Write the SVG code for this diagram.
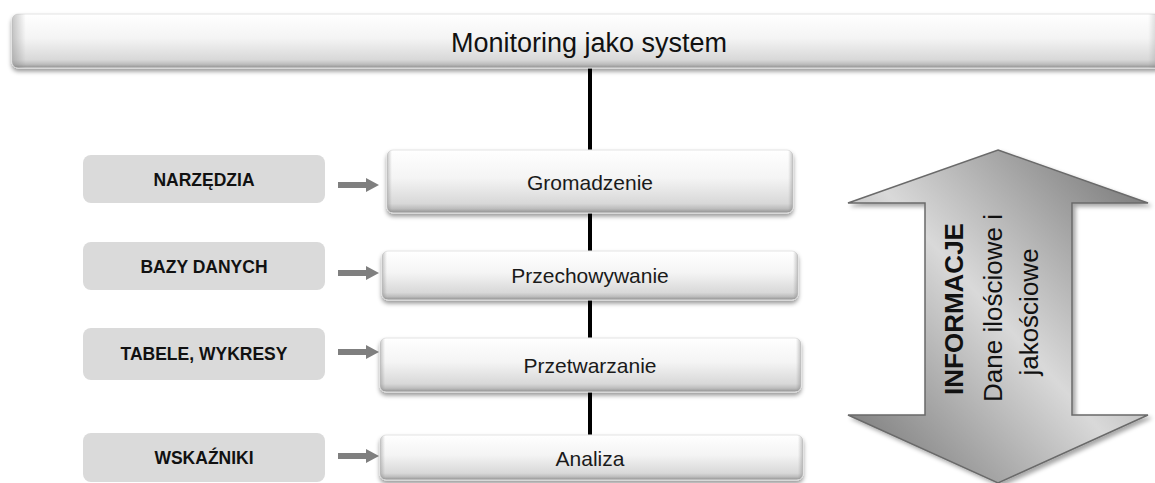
<svg xmlns="http://www.w3.org/2000/svg" width="1155" height="483" viewBox="0 0 1155 483">
<style>
  .bar-text { font-family: "Liberation Sans", Arial, sans-serif; font-size: 27px; fill: #111; text-anchor: middle; }
  .step-text { font-family: "Liberation Sans", Arial, sans-serif; font-size: 21px; fill: #1a1a1a; text-anchor: middle; }
  .side-text { font-family: "Liberation Sans", Arial, sans-serif; font-size: 17.5px; font-weight: bold; fill: #111; text-anchor: middle; }
  .side-box { fill: #dadada; }
  .bevel { fill: url(#gV); stroke: #e4e4e4; stroke-width: 1; filter: url(#sh); }
  .edge { fill: url(#gH); }
  .vline { stroke: #000; stroke-width: 4; fill: none; }
  .garrow { fill: #7f7f7f; }
  .big-text { font-family: "Liberation Sans", Arial, sans-serif; font-size: 26px; fill: #111; text-anchor: middle; }
</style>
<defs>
  <linearGradient id="gV" x1="0" y1="0" x2="0" y2="1">
    <stop offset="0" stop-color="#ffffff"/>
    <stop offset="0.45" stop-color="#f4f4f4"/>
    <stop offset="0.85" stop-color="#d8d8d8"/>
    <stop offset="0.93" stop-color="#bdbdbd"/>
    <stop offset="1" stop-color="#8e8e8e"/>
  </linearGradient>
  <linearGradient id="gH" x1="0" y1="0" x2="1" y2="0">
    <stop offset="0" stop-color="#808080" stop-opacity="0.45"/>
    <stop offset="0.012" stop-color="#808080" stop-opacity="0"/>
    <stop offset="0.988" stop-color="#808080" stop-opacity="0"/>
    <stop offset="1" stop-color="#808080" stop-opacity="0.45"/>
  </linearGradient>
  <linearGradient id="gBig" x1="1" y1="0" x2="0" y2="1">
    <stop offset="0" stop-color="#6f6f6f"/>
    <stop offset="0.5" stop-color="#d9d9d9"/>
    <stop offset="1" stop-color="#6f6f6f"/>
  </linearGradient>
  <filter id="sh" x="-5%" y="-20%" width="110%" height="150%">
    <feDropShadow dx="0" dy="3" stdDeviation="2" flood-color="#000" flood-opacity="0.4"/>
  </filter>
  <filter id="shBig" x="-10%" y="-10%" width="120%" height="120%">
    <feDropShadow dx="3" dy="3" stdDeviation="2" flood-color="#000" flood-opacity="0.35"/>
  </filter>
</defs>

<g id="connectors">
  <line class="vline" x1="590" y1="68" x2="590" y2="151"/>
  <line class="vline" x1="590" y1="213" x2="590" y2="252"/>
  <line class="vline" x1="590" y1="300" x2="590" y2="339"/>
  <line class="vline" x1="590" y1="392" x2="590" y2="436"/>
  <path class="garrow" d="M338,182 H366 V178 L379,185 L366,192 V188 H338 Z"/>
  <path class="garrow" d="M338,270 H366 V266 L379,273 L366,280 V276 H338 Z"/>
  <path class="garrow" d="M338,349 H366 V345 L379,352 L366,359 V355 H338 Z"/>
  <path class="garrow" d="M338,453 H366 V449 L379,456 L366,463 V459 H338 Z"/>
</g>

<g id="title">
  <rect class="bevel" x="12" y="14" width="1150" height="54" rx="6"/>
  <rect class="edge" x="12" y="14" width="1150" height="54" rx="6"/>
  <text class="bar-text" x="589" y="52">Monitoring jako system</text>
</g>

<g id="gromadzenie">
  <rect class="bevel" x="387" y="150" width="406" height="63" rx="6"/>
  <rect class="edge" x="387" y="150" width="406" height="63" rx="6"/>
  <text class="step-text" x="590" y="190">Gromadzenie</text>
</g>
<g id="przechowywanie">
  <rect class="bevel" x="382" y="251" width="416" height="49" rx="6"/>
  <rect class="edge" x="382" y="251" width="416" height="49" rx="6"/>
  <text class="step-text" x="590" y="283">Przechowywanie</text>
</g>
<g id="przetwarzanie">
  <rect class="bevel" x="380" y="338" width="421" height="54" rx="6"/>
  <rect class="edge" x="380" y="338" width="421" height="54" rx="6"/>
  <text class="step-text" x="590" y="373">Przetwarzanie</text>
</g>
<g id="analiza">
  <rect class="bevel" x="380" y="435" width="423" height="45" rx="6"/>
  <rect class="edge" x="380" y="435" width="423" height="45" rx="6"/>
  <text class="step-text" x="590" y="466">Analiza</text>
</g>

<g id="narzedzia">
  <rect class="side-box" x="83" y="155" width="242" height="48" rx="8"/>
  <text class="side-text" x="204" y="186">NARZĘDZIA</text>
</g>
<g id="bazy-danych">
  <rect class="side-box" x="83" y="242" width="242" height="48" rx="8"/>
  <text class="side-text" x="204" y="273">BAZY DANYCH</text>
</g>
<g id="tabele-wykresy">
  <rect class="side-box" x="83" y="328" width="242" height="52" rx="8"/>
  <text class="side-text" x="204" y="360">TABELE, WYKRESY</text>
</g>
<g id="wskazniki">
  <rect class="side-box" x="83" y="433" width="242" height="49" rx="8"/>
  <text class="side-text" x="204" y="464">WSKAŹNIKI</text>
</g>

<g id="informacje">
  <path d="M998,150 L1148,203 H1072 V415 H1148 L998,483 L848,415 H925 V203 H848 Z" fill="url(#gBig)" stroke="#6a6a6a" stroke-width="1.5" filter="url(#shBig)"/>
  <text class="big-text" font-weight="bold" font-size="24" transform="translate(963,309) rotate(-90)">INFORMACJE</text>
  <text class="big-text" transform="translate(1002,308) rotate(-90)">Dane ilościowe i</text>
  <text class="big-text" transform="translate(1038,312) rotate(-90)">jakościowe</text>
</g>
</svg>
